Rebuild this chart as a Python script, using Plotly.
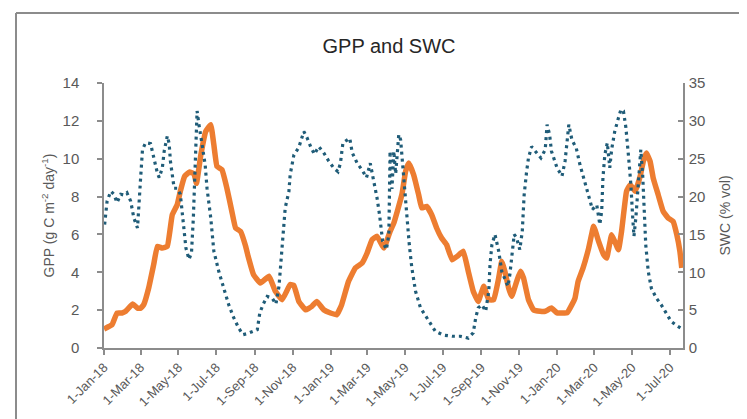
import pandas as pd
import plotly.graph_objects as go

# ---- data (days since 1 Jan 2018) ----
start_date = "2018-01-01"

gpp_day = [0, 13, 21, 29, 35, 46, 54, 59, 64, 72, 80, 86, 94, 102, 110, 118, 123, 130, 138, 145,
           149, 156, 164, 172, 177, 182, 190, 198, 206, 212, 220, 228, 233, 241, 252, 266, 276, 287,
           300, 306, 314, 325, 335, 343, 354, 365, 375, 383, 394, 405, 416, 424, 432, 440, 451, 461,
           467, 480, 486, 491, 499, 507, 512, 520, 528, 536, 544, 552, 561, 569, 579, 587, 595, 603,
           612, 620, 628, 636, 641, 646, 652, 657, 665, 671, 676, 684, 692, 703, 711, 721, 730, 738,
           746, 754, 759, 764, 772, 781, 789, 797, 805, 810, 818, 823, 829, 834, 842, 848, 856, 864,
           869, 874, 880, 885, 893, 901, 909, 917, 923, 928, 931]
gpp_val = [1.0, 1.23, 1.85, 1.85, 1.94, 2.32, 2.11, 2.10, 2.29, 3.17, 4.4, 5.37, 5.28, 5.37, 7.04,
           7.57, 8.28, 9.07, 9.3, 9.2, 8.7, 10.2, 11.45, 11.8, 10.74, 9.6, 9.42, 8.45, 7.22, 6.34,
           6.16, 5.4, 4.75, 3.87, 3.43, 3.79, 3.0, 2.55, 3.35, 3.3, 2.46, 2.02, 2.2, 2.46, 2.02, 1.85,
           1.76, 2.29, 3.52, 4.23, 4.49, 5.02, 5.72, 5.9, 5.28, 6.16, 6.6, 8.1, 9.33, 9.77, 9.15, 8.1,
           7.4, 7.48, 7.04, 6.34, 5.81, 5.46, 4.66, 4.84, 5.11, 4.05, 3.0, 2.46, 3.26, 2.55, 2.55,
           3.7, 4.58, 4.05, 3.17, 2.73, 3.52, 4.05, 3.7, 2.55, 2.02, 1.94, 1.94, 2.11, 1.85, 1.85,
           1.85, 2.29, 2.64, 3.52, 4.23, 5.28, 6.43, 5.63, 4.93, 4.75, 5.99, 5.63, 5.19, 6.16, 8.28,
           8.63, 8.28, 9.07, 9.86, 10.3, 9.86, 8.98, 8.1, 7.22, 6.87, 6.69, 5.99, 5.11, 4.23]

swc_day = [1, 5, 11, 16, 21, 27, 32, 37, 43, 48, 54, 56, 59, 62, 67, 75, 80, 86, 89, 94, 97, 102,
           105, 107, 113, 118, 123, 126, 129, 132, 137, 141, 144, 146, 148, 150, 153, 156, 158, 163,
           166, 172, 177, 185, 193, 201, 209, 217, 224, 231, 247, 251, 256, 263, 271, 277, 282, 284,
           287, 290, 292, 298, 300, 306, 314, 322, 327, 333, 339, 346, 354, 362, 370, 377, 381, 385,
           392, 396, 400, 408, 416, 423, 429, 434, 440, 444, 449, 455, 459, 461, 464, 467, 470, 475,
           478, 483, 488, 492, 496, 502, 510, 520, 534, 547, 561, 574, 587, 595, 599, 603, 609, 615,
           620, 622, 625, 630, 636, 641, 646, 651, 654, 658, 661, 665, 670, 674, 677, 681, 684, 689,
           697, 704, 711, 714, 718, 721, 730, 738, 743, 746, 749, 754, 761, 767, 775, 782, 787, 794,
           799, 802, 804, 807, 811, 815, 818, 823, 829, 833, 837, 841, 845, 849, 852, 854, 857, 860,
           863, 865, 868, 871, 873, 877, 882, 890, 898, 906, 914, 924, 929]
swc_val = [16.3, 19.4, 20.7, 20.3, 19.2, 20.3, 20.2, 20.5, 19.4, 17.2, 15.85, 18.0, 22.45, 26.2,
           27.1, 27.0, 25.1, 23.1, 22.5, 23.8, 26.0, 28.0, 27.0, 24.7, 21.1, 21.1, 20.3, 17.6, 15.4,
           13.2, 11.7, 12.6, 17.2, 22.0, 26.9, 31.3, 29.5, 28.2, 26.9, 24.2, 21.1, 17.2, 12.8, 10.1,
           7.9, 5.7, 4.0, 2.64, 1.76, 1.9, 2.42, 4.6, 5.7, 6.8, 6.6, 5.8, 8.15, 10.3, 12.8, 16.3,
           18.5, 20.7, 22.9, 25.5, 26.5, 28.6, 27.8, 26.6, 25.6, 26.6, 25.8, 24.7, 23.8, 23.3, 24.4,
           27.1, 27.5, 27.7, 25.8, 24.4, 23.5, 22.5, 24.4, 22.5, 19.8, 17.6, 14.1, 13.0, 15.0, 26.0,
           21.0, 26.0, 23.0, 28.2, 27.5, 22.5, 17.2, 13.6, 10.6, 7.5, 5.3, 4.0, 2.2, 1.7, 1.55, 1.55,
           1.3, 2.0, 4.0, 5.3, 5.7, 4.85, 7.5, 11.0, 13.6, 15.0, 12.8, 10.1, 9.2, 8.15, 9.7, 12.8,
           15.0, 14.5, 13.0, 15.4, 20.2, 23.3, 25.1, 26.6, 25.8, 25.1, 26.2, 29.5, 28.2, 26.0, 23.8,
           22.7, 24.7, 27.1, 29.5, 27.5, 26.4, 24.2, 22.0, 19.8, 18.3, 18.9, 16.3, 18.1, 22.5, 25.5,
           27.1, 23.8, 26.2, 28.6, 30.4, 31.5, 31.3, 29.1, 25.5, 21.6, 17.2, 14.75, 17.2, 20.7, 24.2,
           26.2, 22.9, 18.1, 13.6, 10.1, 7.9, 6.6, 5.7, 4.6, 3.5, 2.9, 2.64]

title_text = "GPP and SWC"
y1_title = "GPP (g C m<sup>-2</sup> day<sup>-1</sup>)"
y2_title = "SWC (% vol)"

base = pd.Timestamp(start_date)
gpp_dates = base + pd.to_timedelta(gpp_day, unit="D")
swc_dates = base + pd.to_timedelta(swc_day, unit="D")

axis_col = "#8c8c8c"
text_col = "#595959"
font_fam = "Liberation Sans, Arial, sans-serif"

fig = go.Figure()
fig.add_trace(go.Scatter(x=gpp_dates, y=gpp_val, mode="lines", name="GPP",
                         line=dict(color="#ED7D31", width=5.5, shape="spline", smoothing=0.3)))
fig.add_trace(go.Scatter(x=swc_dates, y=swc_val, mode="lines", name="SWC", yaxis="y2",
                         line=dict(color="#1f5c78", width=3.2, dash="3px,4px")))

W, H = 747, 419
L, R, T, B = 96, 72, 75, 79
pw, ph = W - L - R, H - T - B

def px(x):
    return (x - L) / pw

def py(y):
    return (H - B - y) / ph

fig.update_layout(
    width=W, height=H,
    margin=dict(l=L, r=R, t=T, b=B),
    paper_bgcolor="white", plot_bgcolor="white",
    showlegend=False,
    font=dict(family=font_fam, color=text_col, size=14),
    title=dict(text=title_text, x=px(381), xref="paper", xanchor="center",
               y=1 - 38 / H, yref="container", yanchor="middle",
               font=dict(size=20, color="#262626", family=font_fam)),
    xaxis=dict(type="date", range=["2018-01-01", "2020-07-22"],
               tick0="2018-01-01", dtick="M2", tickformat="%-d-%b-%y", tickangle=-45,
               showline=True, linecolor=axis_col, linewidth=1.5,
               ticks="outside", ticklen=5, tickcolor=axis_col, tickwidth=1.5,
               showgrid=False, zeroline=False, tickfont=dict(size=13, color=text_col)),
    yaxis=dict(range=[0, 14], dtick=2, showline=True, linecolor=axis_col, linewidth=1.5,
               ticks="outside", ticklen=5, tickcolor=axis_col, tickwidth=1.5,
               showgrid=False, zeroline=False, ticklabelstandoff=15,
               tickfont=dict(size=15, color=text_col),
               title=dict(text=y1_title, standoff=5, font=dict(size=14, color=text_col))),
    yaxis2=dict(range=[0, 35], dtick=5, overlaying="y", side="right", showline=True,
                linecolor=axis_col, linewidth=1.5, ticks="inside", ticklen=5,
                tickcolor=axis_col, tickwidth=1.5, showgrid=False, zeroline=False,
                ticklabelstandoff=1, tickfont=dict(size=15, color=text_col),
                title=dict(text=y2_title, standoff=16, font=dict(size=14, color=text_col))),
    shapes=[
        dict(type="line", xref="paper", yref="paper", x0=px(8), x1=px(8), y0=py(H + 5), y1=py(5),
             line=dict(color="#8c8c8c", width=2)),
        dict(type="line", xref="paper", yref="paper", x0=px(8), x1=px(W + 5), y0=py(5), y1=py(5),
             line=dict(color="#8c8c8c", width=2)),
    ],
)

fig.write_html("out.html")
